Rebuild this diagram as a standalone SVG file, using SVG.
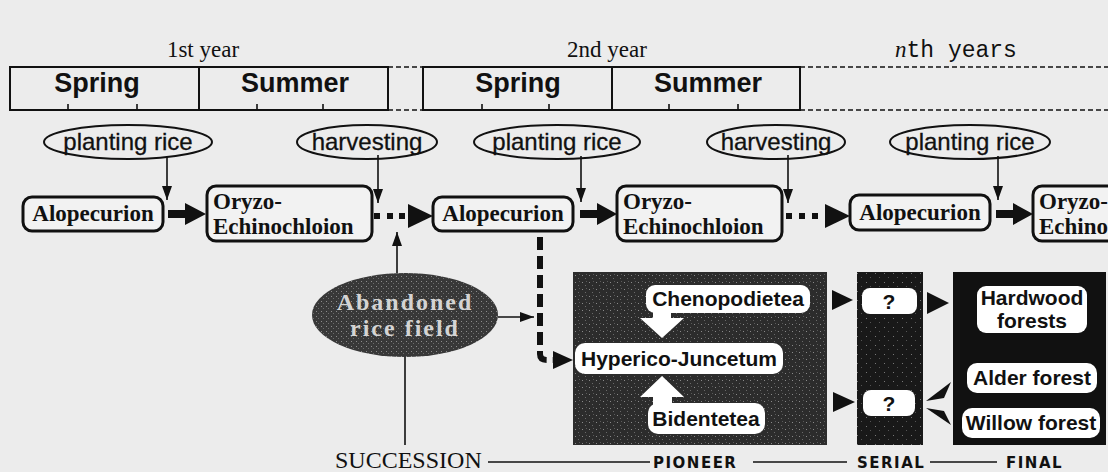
<svg xmlns="http://www.w3.org/2000/svg" width="1108" height="472" viewBox="0 0 1108 472">
<defs>
<style>
.yr{font-family:"Liberation Serif",serif;font-size:23px;fill:#111}
.season{font-family:"Liberation Sans",Arial,sans-serif;font-weight:bold;font-size:27px;fill:#111;text-anchor:middle}
.box{fill:none;stroke:#111;stroke-width:2}
.ov{fill:none;stroke:#111;stroke-width:2}
.ovt{font-family:"Liberation Sans",Arial,sans-serif;font-size:24px;fill:#111;text-anchor:middle;stroke:#111;stroke-width:0.3}
.nd{fill:#f2f2f2;stroke:#111;stroke-width:3}
.ndt{font-family:"Liberation Serif",serif;font-weight:bold;font-size:23px;fill:#111}
.lbl{fill:#fff}
.lblt{font-family:"Liberation Sans",Arial,sans-serif;font-weight:bold;font-size:21px;fill:#111;text-anchor:middle}
.thin{stroke:#111;stroke-width:1.6;fill:none}
.dash{stroke:#111;stroke-width:1.5;stroke-dasharray:5 3;fill:none}
.blk{fill:#111}
.stage{font-family:"DejaVu Sans",sans-serif;font-weight:bold;font-size:15px;fill:#111;letter-spacing:1.5px}
</style>
<pattern id="tex" width="7" height="7" patternUnits="userSpaceOnUse">
<rect width="7" height="7" fill="#2c2c2c"/>
<rect x="1" y="2" width="1" height="1" fill="#8a8a8a"/>
<rect x="4" y="5" width="1" height="1" fill="#6a6a6a"/>
<rect x="5" y="1" width="1" height="1" fill="#5a5a5a"/>
</pattern>
<pattern id="tex2" width="9" height="9" patternUnits="userSpaceOnUse">
<rect width="9" height="9" fill="#191919"/>
<rect x="2" y="3" width="1" height="1" fill="#777"/>
<rect x="6" y="7" width="1" height="1" fill="#555"/>
</pattern>
<pattern id="tex3" width="5" height="5" patternUnits="userSpaceOnUse">
<rect width="5" height="5" fill="#383838"/>
<rect x="1" y="1" width="1" height="1" fill="#8c8c8c"/>
<rect x="3" y="3" width="1" height="1" fill="#6c6c6c"/>
</pattern>
<marker id="ah" viewBox="0 0 10 10" refX="10" refY="5" markerWidth="14" markerHeight="10" orient="auto" markerUnits="userSpaceOnUse" preserveAspectRatio="none">
<path d="M0,0 L10,5 L0,10 z" fill="#111"/>
</marker>
</defs>
<rect width="1108" height="472" fill="#ececec"/>

<g id="timeline">
<text class="yr" x="203" y="57" text-anchor="middle">1st year</text>
<text class="yr" x="607" y="57" text-anchor="middle">2nd year</text>
<text x="895" y="57" font-size="23" fill="#111"><tspan font-family="Liberation Serif, serif" font-style="italic">n</tspan><tspan font-family="Liberation Mono, monospace">th years</tspan></text>
<rect class="box" x="10" y="67" width="378" height="43"/>
<line class="box" x1="199" y1="67" x2="199" y2="110"/>
<rect class="box" x="423" y="67" width="377" height="43"/>
<line class="box" x1="612" y1="67" x2="612" y2="110"/>
<path class="dash" d="M388,67 H423 M388,110 H423 M800,67 H1108 M800,110 H1108"/>
<path class="thin" d="M68,110 v-6 M137,110 v-6 M257,110 v-6 M323,110 v-6 M482,110 v-6 M549,110 v-6 M669,110 v-6 M738,110 v-6"/>
<text class="season" x="97" y="92">Spring</text>
<text class="season" x="295" y="92">Summer</text>
<text class="season" x="518" y="92">Spring</text>
<text class="season" x="708" y="92">Summer</text>
</g>

<g id="ev-plant1"><ellipse class="ov" cx="128" cy="142" rx="84" ry="17"/><text class="ovt" x="128" y="150">planting rice</text></g>
<g id="ev-harv1"><ellipse class="ov" cx="367" cy="142" rx="70" ry="17"/><text class="ovt" x="367" y="150">harvesting</text></g>
<g id="ev-plant2"><ellipse class="ov" cx="557" cy="142" rx="83" ry="17"/><text class="ovt" x="557" y="150">planting rice</text></g>
<g id="ev-harv2"><ellipse class="ov" cx="776" cy="142" rx="69" ry="17"/><text class="ovt" x="776" y="150">harvesting</text></g>
<g id="ev-plant3"><ellipse class="ov" cx="970" cy="142" rx="80" ry="17"/><text class="ovt" x="970" y="150">planting rice</text></g>

<g id="n-alo1"><rect class="nd" x="23" y="197" width="140" height="34" rx="9"/><text class="ndt" x="93" y="221" text-anchor="middle">Alopecurion</text></g>
<g id="n-ory1"><rect class="nd" x="207" y="186" width="165" height="55" rx="9"/><text class="ndt" x="213" y="209">Oryzo-</text><text class="ndt" x="213" y="234">Echinochloion</text></g>
<g id="n-alo2"><rect class="nd" x="433" y="197" width="140" height="34" rx="9"/><text class="ndt" x="503" y="221" text-anchor="middle">Alopecurion</text></g>
<g id="n-ory2"><rect class="nd" x="617" y="186" width="165" height="55" rx="9"/><text class="ndt" x="623" y="209">Oryzo-</text><text class="ndt" x="623" y="234">Echinochloion</text></g>
<g id="n-alo3"><rect class="nd" x="850" y="195" width="140" height="35" rx="9"/><text class="ndt" x="920" y="220" text-anchor="middle">Alopecurion</text></g>
<g id="n-ory3"><rect class="nd" x="1033" y="186" width="120" height="55" rx="9"/><text class="ndt" x="1039" y="209">Oryzo-</text><text class="ndt" x="1039" y="234">Echinochloion</text></g>

<g id="n-abandoned">
<ellipse cx="405" cy="315" rx="93" ry="42" fill="url(#tex3)"/>
<text x="405" y="310" text-anchor="middle" font-family="Liberation Serif, serif" font-weight="bold" font-size="24" letter-spacing="2" fill="#d4d4d4">Abandoned</text>
<text x="405" y="336" text-anchor="middle" font-family="Liberation Serif, serif" font-weight="bold" font-size="24" letter-spacing="2" fill="#d4d4d4">rice field</text>
</g>

<g id="n-pioneer">
<rect x="573" y="272" width="254" height="173" fill="url(#tex)"/>
<rect class="lbl" x="646" y="285" width="164" height="28" rx="9"/>
<text class="lblt" x="728" y="306">Chenopodietea</text>
<path fill="#fff" d="M653,312 H671 V318 H684 L662,338 L640,318 H653 Z"/>
<rect class="lbl" x="575" y="343" width="208" height="31" rx="10"/>
<text class="lblt" x="679" y="366">Hyperico-Juncetum</text>
<path fill="#fff" d="M662,376 L684,397 H672 V405 H653 V397 H640 Z"/>
<rect class="lbl" x="648" y="403" width="117" height="31" rx="10"/>
<text class="lblt" x="706" y="426">Bidentetea</text>
</g>

<g id="n-serial">
<rect x="857" y="272" width="66" height="173" fill="url(#tex2)"/>
<rect class="lbl" x="862" y="288" width="55" height="26" rx="8"/>
<text class="lblt" x="889" y="309">?</text>
<rect class="lbl" x="863" y="390" width="52" height="26" rx="8"/>
<text class="lblt" x="889" y="411">?</text>
</g>

<g id="n-final">
<rect x="953" y="272" width="153" height="173" fill="#111"/>
<rect class="lbl" x="977" y="286" width="110" height="47" rx="9"/>
<text class="lblt" x="1032" y="305" font-size="20">Hardwood</text>
<text class="lblt" x="1032" y="328" font-size="20">forests</text>
<rect class="lbl" x="967" y="363" width="130" height="30" rx="10"/>
<text class="lblt" x="1032" y="385">Alder forest</text>
<rect class="lbl" x="962" y="408" width="138" height="30" rx="10"/>
<text class="lblt" x="1031" y="430">Willow forest</text>
</g>

<g id="connectors">
<line class="thin" x1="167" y1="157" x2="167" y2="200" marker-end="url(#ah)"/>
<line class="thin" x1="378" y1="155" x2="378" y2="203" marker-end="url(#ah)"/>
<line class="thin" x1="581" y1="156" x2="581" y2="202" marker-end="url(#ah)"/>
<line class="thin" x1="788" y1="155" x2="788" y2="203" marker-end="url(#ah)"/>
<line class="thin" x1="998" y1="156" x2="998" y2="200" marker-end="url(#ah)"/>
<path class="blk" d="M168,210 H185 V203 L206,214 L185,225 V218 H168 Z"/>
<path class="blk" d="M580,210 H597 V203 L617,214 L597,225 V218 H580 Z"/>
<path class="blk" d="M996,210 H1013 V203 L1033,214 L1013,225 V218 H996 Z"/>
<rect class="blk" x="374" y="213" width="6" height="6"/>
<rect class="blk" x="387" y="213" width="6" height="6"/>
<rect class="blk" x="399" y="213" width="6" height="6"/>
<path class="blk" d="M408,204 L433,216 L408,228 Z"/>
<rect class="blk" x="786" y="213" width="6" height="6"/>
<rect class="blk" x="799" y="213" width="6" height="6"/>
<rect class="blk" x="812" y="213" width="6" height="6"/>
<path class="blk" d="M825,204 L850,216 L825,228 Z"/>
<line class="thin" x1="397" y1="273" x2="397" y2="232" marker-end="url(#ah)"/>
<line class="thin" x1="405" y1="357" x2="405" y2="445"/>
<line class="thin" x1="498" y1="317" x2="534" y2="317" marker-end="url(#ah)"/>
<path d="M540,237 V354 Q540,360 547,360 H554" fill="none" stroke="#111" stroke-width="6" stroke-dasharray="13 6"/>
<path class="blk" d="M553,351 L573,360 L553,369 Z"/>
<path class="blk" d="M832,290 L853,300 L832,310 Z"/>
<path class="blk" d="M833,392 L855,402 L833,412 Z"/>
<path class="blk" d="M927,292 L949,303 L927,314 Z"/>
<path class="blk" d="M926,401 L951,382 L944,398 Z"/>
<path class="blk" d="M926,408 L944,411 L951,425 Z"/>
<line class="thin" x1="488" y1="462" x2="650" y2="462"/>
<line class="thin" x1="753" y1="462" x2="847" y2="462"/>
<line class="thin" x1="930" y1="462" x2="997" y2="462"/>
</g>

<g id="stages">
<text x="335" y="468" font-family="Liberation Serif, serif" font-size="24" fill="#111">SUCCESSION</text>
<text class="stage" x="653" y="468">PIONEER</text>
<text class="stage" x="857" y="468">SERIAL</text>
<text class="stage" x="1006" y="468">FINAL</text>
</g>
</svg>
